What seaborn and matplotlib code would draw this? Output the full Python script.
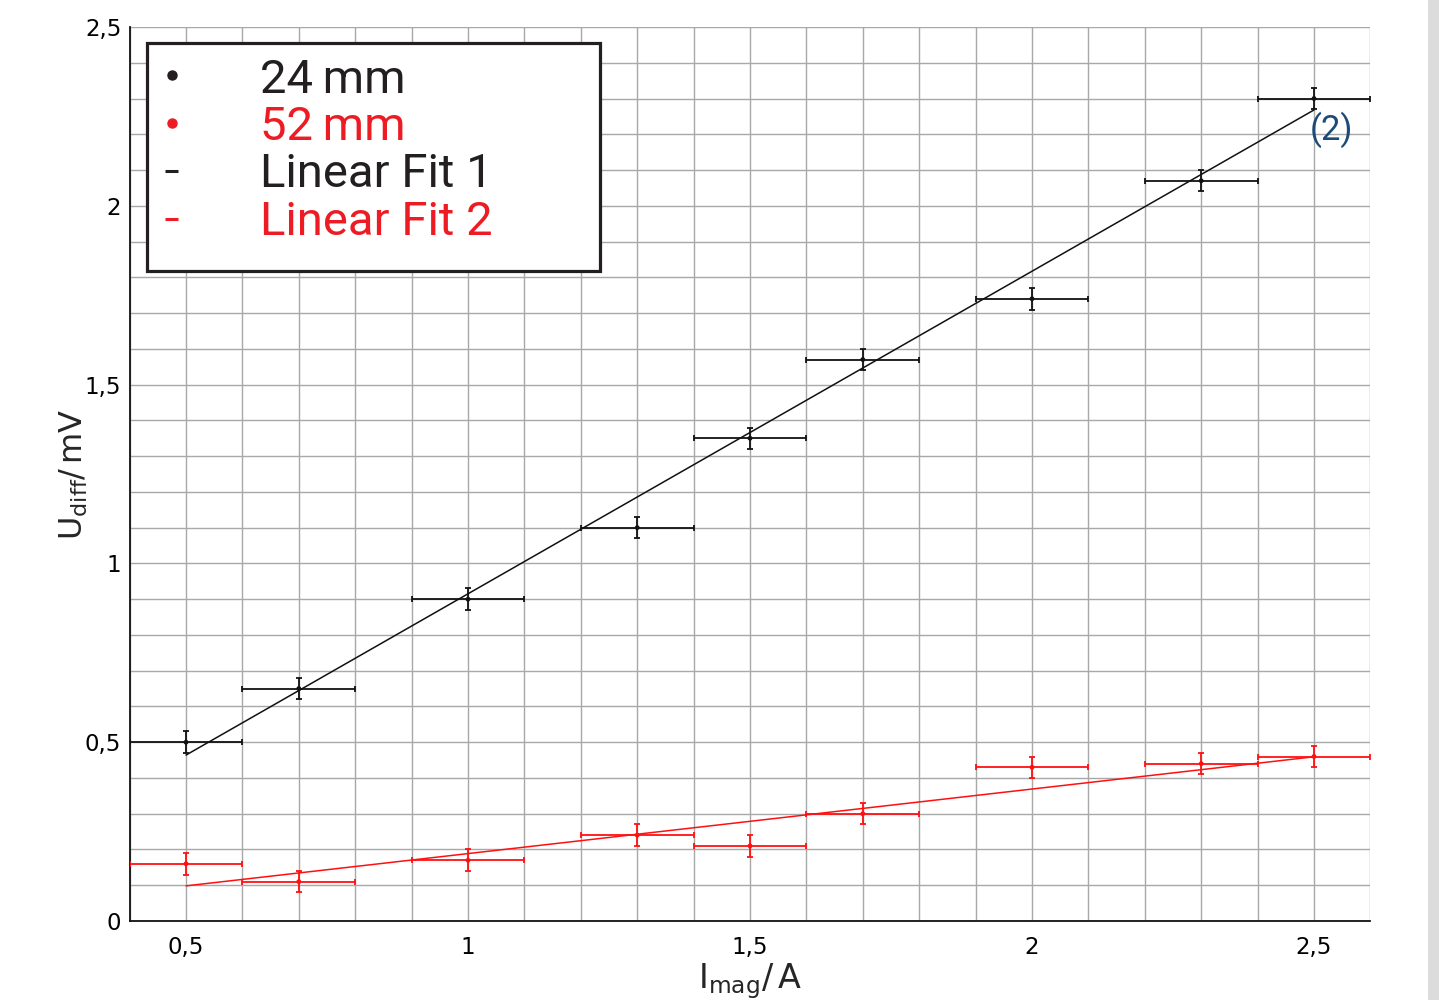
import numpy as np
import pandas as pd
import matplotlib
matplotlib.use("Agg")
import matplotlib.pyplot as plt
from matplotlib.patches import Rectangle
from matplotlib.ticker import MultipleLocator, FuncFormatter
import seaborn as sns

# ---------------- data ----------------
i_mag = [0.5, 0.7, 1.0, 1.3, 1.5, 1.7, 2.0, 2.3, 2.5]
u_24mm = [0.50, 0.65, 0.90, 1.10, 1.35, 1.57, 1.74, 2.07, 2.30]
u_52mm = [0.16, 0.11, 0.17, 0.24, 0.21, 0.30, 0.43, 0.44, 0.46]
x_err = [0.1] * 9
y_err = [0.03] * 9
fit_slope = [0.902, 0.1805]
fit_intercept = [0.013, 0.008]
fit_range = [0.5, 2.5]
legend_labels = ["24\u2009mm", "52\u2009mm", "Linear Fit 1", "Linear Fit 2"]
x_ticks = [0.5, 1.0, 1.5, 2.0, 2.5]
y_ticks = [0, 0.5, 1.0, 1.5, 2.0, 2.5]

BLACK = "#111111"
RED = "#ff1010"
TXT_BLACK = "#231f20"
TXT_RED = "#ed1c24"

sns.set_style("white")
plt.rcParams["font.family"] = ["DejaVu Sans"]
plt.rcParams["mathtext.default"] = "regular"

W, H = 1439, 1000
AX_L, AX_R, AX_T, AX_B = 129.6, 1370.4, 27, 921
fig = plt.figure(figsize=(W / 100, H / 100), dpi=100)
ax = fig.add_axes([AX_L / W, 1 - AX_B / H, (AX_R - AX_L) / W, (AX_B - AX_T) / H])


def fx_(px):
    return (px - AX_L) / (AX_R - AX_L)


def fy_(py):
    return (AX_B - py) / (AX_B - AX_T)


df = pd.DataFrame({
    "I": i_mag * 2,
    "U": u_24mm + u_52mm,
    "series": ["24 mm"] * len(i_mag) + ["52 mm"] * len(i_mag),
})

# error bars
for ys, col in [(u_24mm, BLACK), (u_52mm, RED)]:
    ax.errorbar(i_mag, ys, xerr=x_err, yerr=y_err, fmt="none", ecolor=col,
                elinewidth=1.3, capsize=2.2, capthick=1.3, zorder=3)

sns.scatterplot(data=df, x="I", y="U", hue="series",
                palette={"24 mm": BLACK, "52 mm": RED}, s=12,
                edgecolor="none", legend=False, ax=ax, zorder=4)

# fit lines
fx = np.array(fit_range)
fit_df = pd.DataFrame({
    "I": np.concatenate([fx, fx]),
    "U": np.concatenate([fit_slope[0] * fx + fit_intercept[0],
                         fit_slope[1] * fx + fit_intercept[1]]),
    "fit": ["Linear Fit 1"] * 2 + ["Linear Fit 2"] * 2,
})
sns.lineplot(data=fit_df, x="I", y="U", hue="fit",
             palette={"Linear Fit 1": BLACK, "Linear Fit 2": RED},
             linewidth=1.1, legend=False, ax=ax, zorder=3.5)

# axes
ax.set_xlim(0.4, 2.6)
ax.set_ylim(0, 2.5)
ax.set_xticks(x_ticks)
ax.set_yticks(y_ticks)
ax.xaxis.set_minor_locator(MultipleLocator(0.1))
ax.yaxis.set_minor_locator(MultipleLocator(0.1))
fmt = FuncFormatter(lambda v, p: ("%g" % v).replace(".", ","))
ax.xaxis.set_major_formatter(fmt)
ax.yaxis.set_major_formatter(fmt)
ax.grid(True, which="both", color="#a8a8a8", linewidth=1.0)
ax.set_axisbelow(True)
for s in ["top", "right"]:
    ax.spines[s].set_visible(False)
for s in ["left", "bottom"]:
    ax.spines[s].set_color(BLACK)
    ax.spines[s].set_linewidth(1.3)
ax.tick_params(axis="both", which="both", direction="out", length=4.5,
               width=1.0, color=BLACK, labelsize=16.5, labelcolor="black")
ax.tick_params(axis="x", which="both", pad=6)
ax.tick_params(axis="y", which="both", pad=1.5)

ax.set_xlabel(r"$\mathregular{I_{mag}/\,A}$", fontsize=24)
ax.set_ylabel(r"$\mathregular{U_{diff}/\,mV}$", fontsize=23)
ax.xaxis.set_label_coords(0.5, -0.045)
ax.yaxis.set_label_coords(fx_(90), 0.5)

# annotation
ax.text(2.531, 2.212, "(2)", color="#1d4a78", fontsize=25, family="Roboto",
        ha="center", va="center", zorder=6)

# legend box
ax.add_patch(Rectangle((fx_(147), fy_(271)), fx_(600) - fx_(147),
                       fy_(43) - fy_(271),
                       transform=ax.transAxes, facecolor="white",
                       edgecolor=TXT_BLACK, linewidth=2.3, zorder=7,
                       clip_on=False))
rows_base = [93, 140, 187, 235]
rows_mid = [75, 123, 171, 219]
colors = [TXT_BLACK, TXT_RED, TXT_BLACK, TXT_RED]
for k, (lab, col) in enumerate(zip(legend_labels, colors)):
    ax.text(fx_(260), fy_(rows_base[k]), lab, color=col,
            fontsize=34, family="Roboto", ha="left", va="baseline",
            transform=ax.transAxes, zorder=8)
    ym = fy_(rows_mid[k])
    if k < 2:
        ax.plot([fx_(172)], [ym], "o", color=col, markersize=6.5,
                transform=ax.transAxes, zorder=8, clip_on=False)
    else:
        ax.plot([fx_(165), fx_(178)], [ym, ym], "-",
                color=col, linewidth=2.2, transform=ax.transAxes, zorder=8,
                clip_on=False, solid_capstyle="butt")

# grey strip at right edge
fig.add_artist(Rectangle((1428 / W, 0), 11 / W, 1, transform=fig.transFigure,
                         facecolor="#dcdcdc", edgecolor="none"))

fig.savefig("out.png", dpi=100, facecolor="white")
